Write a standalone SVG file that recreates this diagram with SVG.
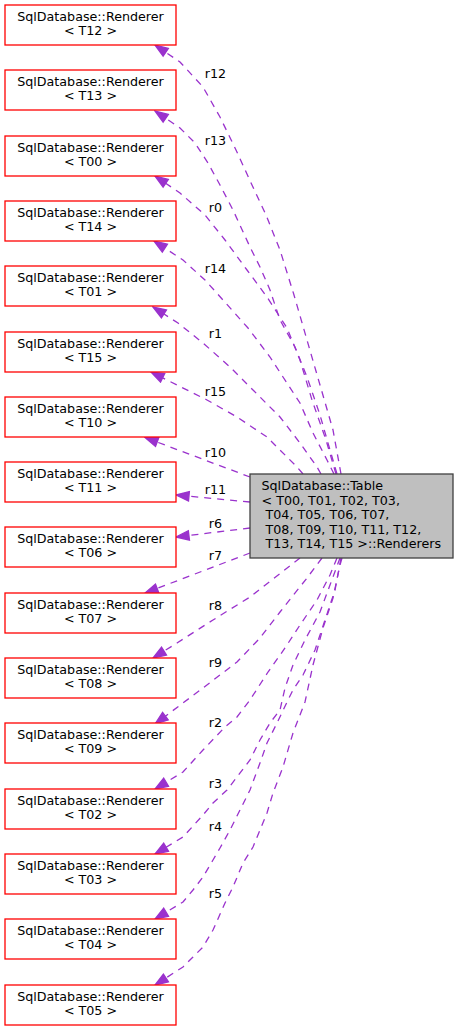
<svg xmlns="http://www.w3.org/2000/svg" width="459" height="1031" viewBox="0 0 459 1031">
<style>
text { font-family: "DejaVu Sans", sans-serif; font-size: 12.7px; fill: #000; }
.r rect { fill: #fff; stroke: #ff0000; stroke-width: 1.3; }
.r text { text-anchor: middle; }
.t rect { fill: #bfbfbf; stroke: #404040; stroke-width: 1.3; }
.e path { fill: none; stroke: #9a32cd; stroke-width: 1.3; stroke-dasharray: 7 6; marker-end: url(#ah); }
.lbl text { text-anchor: middle; }
</style>
<defs>
<marker id="ah" markerUnits="userSpaceOnUse" markerWidth="16" markerHeight="12" viewBox="-15 -6 16 12" refX="0" refY="0" orient="auto">
<path d="M0,0 L-13,-4.7 L-13,4.7 Z" fill="#9a32cd" stroke="#9a32cd" stroke-width="1.3" stroke-dasharray="none"/>
</marker>
</defs>
<rect width="459" height="1031" fill="#fff"/>
<g id="edges" class="e">
<path d="M341,474 L333,430 L320,385 L307,340 L294,295 L280,250 L266,215 L252,185 L236,150 L220,117 L203,87 L180,62 L155,45"/>
<path d="M337,474 L330,450 L320,415 L307,377 L295,347 L280,320 L270,290 L260,267 L250,247 L233,210 L220,185 L208,163 L195,143 L180,128 L155,111"/>
<path d="M336,474 L326,440 L312,400 L300,360 L287,328 L267,297 L247,270 L225,240 L205,215 L180,193 L155,176"/>
<path d="M334,474 L327,460 L313,433 L300,403 L283,377 L270,357 L248,328 L223,300 L205,280 L183,260 L154,241"/>
<path d="M321,474 L317,467 L300,443 L280,417 L253,390 L230,367 L203,343 L178,323 L153,307"/>
<path d="M303,474 L297,467 L267,437 L237,417 L207,400 L177,385 L151,372"/>
<path d="M250,477 L145,437.5"/>
<path d="M250,502 L176,495"/>
<path d="M250,528 L176,537"/>
<path d="M250,553 L145,593"/>
<path d="M300,558 L250,597 L213,620 L177,643 L153,658"/>
<path d="M322,558 L307,578 L280,612 L260,638 L237,662 L203,688 L183,703 L155,724"/>
<path d="M337,558 L330,575 L317,600 L300,625 L285,648 L268,672 L250,700 L237,717 L225,727 L203,750 L183,772 L155,789"/>
<path d="M340,558 L330,585 L320,612 L305,640 L293,665 L285,688 L280,710 L270,723 L260,740 L250,760 L237,777 L227,790 L213,803 L203,815 L183,837 L155,854"/>
<path d="M341,558 L335,590 L325,620 L315,650 L303,675 L293,690 L288,700 L277,723 L267,743 L260,763 L250,790 L240,810 L230,830 L220,848 L213,860 L203,877 L193,890 L183,902 L155,919"/>
<path d="M342,558 L340,565 L333,598 L323,628 L313,665 L305,702 L293,733 L283,767 L273,793 L267,813 L260,830 L253,847 L243,863 L233,887 L225,903 L213,930 L203,947 L193,957 L183,967 L155,985"/>
</g>
<g id="edge-labels" class="lbl">
<text x="215.5" y="78">r12</text>
<text x="215.5" y="145">r13</text>
<text x="215.5" y="212">r0</text>
<text x="215.5" y="273">r14</text>
<text x="215.5" y="338">r1</text>
<text x="215.5" y="396">r15</text>
<text x="215.5" y="457">r10</text>
<text x="215.5" y="494">r11</text>
<text x="215.5" y="528">r6</text>
<text x="215.5" y="560">r7</text>
<text x="215.5" y="610">r8</text>
<text x="215.5" y="667">r9</text>
<text x="215.5" y="727">r2</text>
<text x="215.5" y="788">r3</text>
<text x="215.5" y="831">r4</text>
<text x="215.5" y="898">r5</text>
</g>
<g id="table" class="t">
<rect x="250" y="474" width="203" height="84"/>
<text x="261.5" y="490">SqlDatabase::Table</text>
<text x="261.5" y="504.5">&lt; T00, T01, T02, T03,</text>
<text x="265.5" y="519">T04, T05, T06, T07,</text>
<text x="265.5" y="533.5">T08, T09, T10, T11, T12,</text>
<text x="265.5" y="548">T13, T14, T15 &gt;::Renderers</text>
</g>
<g id="T12" class="r"><rect x="5" y="5" width="171" height="40"/><text x="90.5" y="21">SqlDatabase::Renderer</text><text x="90.5" y="35">&lt; T12 &gt;</text></g>
<g id="T13" class="r"><rect x="5" y="70" width="171" height="40"/><text x="90.5" y="86">SqlDatabase::Renderer</text><text x="90.5" y="100">&lt; T13 &gt;</text></g>
<g id="T00" class="r"><rect x="5" y="136" width="171" height="40"/><text x="90.5" y="152">SqlDatabase::Renderer</text><text x="90.5" y="166">&lt; T00 &gt;</text></g>
<g id="T14" class="r"><rect x="5" y="201" width="171" height="40"/><text x="90.5" y="217">SqlDatabase::Renderer</text><text x="90.5" y="231">&lt; T14 &gt;</text></g>
<g id="T01" class="r"><rect x="5" y="266" width="171" height="40"/><text x="90.5" y="282">SqlDatabase::Renderer</text><text x="90.5" y="296">&lt; T01 &gt;</text></g>
<g id="T15" class="r"><rect x="5" y="332" width="171" height="40"/><text x="90.5" y="348">SqlDatabase::Renderer</text><text x="90.5" y="362">&lt; T15 &gt;</text></g>
<g id="T10" class="r"><rect x="5" y="397" width="171" height="40"/><text x="90.5" y="413">SqlDatabase::Renderer</text><text x="90.5" y="427">&lt; T10 &gt;</text></g>
<g id="T11" class="r"><rect x="5" y="462" width="171" height="40"/><text x="90.5" y="478">SqlDatabase::Renderer</text><text x="90.5" y="492">&lt; T11 &gt;</text></g>
<g id="T06" class="r"><rect x="5" y="527" width="171" height="40"/><text x="90.5" y="543">SqlDatabase::Renderer</text><text x="90.5" y="557">&lt; T06 &gt;</text></g>
<g id="T07" class="r"><rect x="5" y="593" width="171" height="40"/><text x="90.5" y="609">SqlDatabase::Renderer</text><text x="90.5" y="623">&lt; T07 &gt;</text></g>
<g id="T08" class="r"><rect x="5" y="658" width="171" height="40"/><text x="90.5" y="674">SqlDatabase::Renderer</text><text x="90.5" y="688">&lt; T08 &gt;</text></g>
<g id="T09" class="r"><rect x="5" y="723" width="171" height="40"/><text x="90.5" y="739">SqlDatabase::Renderer</text><text x="90.5" y="753">&lt; T09 &gt;</text></g>
<g id="T02" class="r"><rect x="5" y="789" width="171" height="40"/><text x="90.5" y="805">SqlDatabase::Renderer</text><text x="90.5" y="819">&lt; T02 &gt;</text></g>
<g id="T03" class="r"><rect x="5" y="854" width="171" height="40"/><text x="90.5" y="870">SqlDatabase::Renderer</text><text x="90.5" y="884">&lt; T03 &gt;</text></g>
<g id="T04" class="r"><rect x="5" y="919" width="171" height="40"/><text x="90.5" y="935">SqlDatabase::Renderer</text><text x="90.5" y="949">&lt; T04 &gt;</text></g>
<g id="T05" class="r"><rect x="5" y="985" width="171" height="40"/><text x="90.5" y="1001">SqlDatabase::Renderer</text><text x="90.5" y="1015">&lt; T05 &gt;</text></g>
</svg>
